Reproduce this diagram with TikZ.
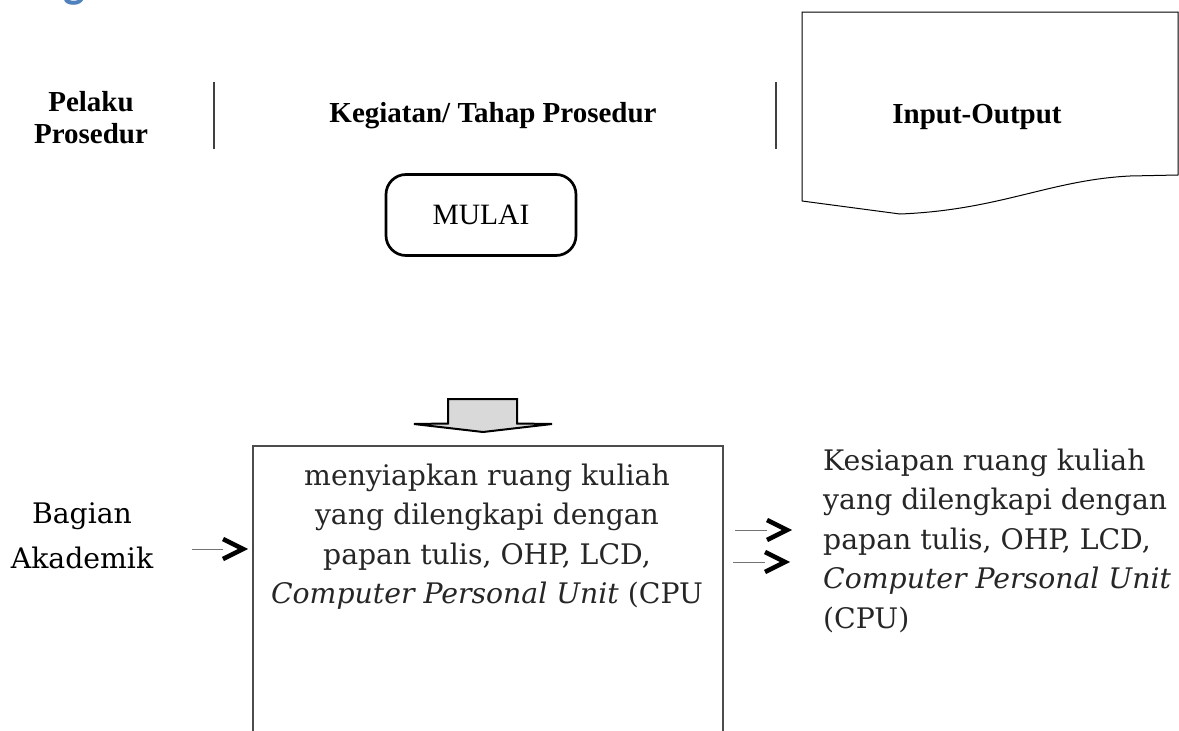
\documentclass[tikz,border=0pt]{standalone}
\usepackage{fontspec}
\setmainfont{DejaVu Serif}
\newfontfamily\hdr{Liberation Serif}
\newfontfamily\headblue{Carlito}
\usetikzlibrary{calc}
\definecolor{hblue}{HTML}{4F81BD}
\definecolor{txt}{HTML}{262626}
\definecolor{shaftgray}{HTML}{D9D9D9}
\newcommand{\myarrow}[2]{%
  \draw[thinline] (#1) -- ($(#2)+(-20,0)$);
  \draw[chev] ($(#2)+(-20,-10)$) -- (#2) -- ($(#2)+(-20,10)$);}
\begin{document}
\begin{tikzpicture}[x=1pt,y=-1pt,
  hdrtext/.style={font=\hdr\bfseries\fontsize{29}{32}\selectfont, inner sep=0, anchor=base},
  body/.style={font=\fontsize{28.3}{39.5}\selectfont, text=txt, inner sep=0},
  sepline/.style={line width=1.3, draw=black!75},
  thinline/.style={line width=1, draw=black!55},
  chev/.style={line width=4.6, draw=black, line cap=butt, line join=miter},
]
\clip (0,0) rectangle (1179,731);
\fill[white] (0,0) rectangle (1179,731);
\node[font=\headblue\bfseries\fontsize{46}{46}\selectfont, text=hblue, anchor=base, inner sep=0] (title) at (74,-3) {g};
% headers
\node[hdrtext] (pelaku) at (91,111) {Pelaku};
\node[hdrtext] (prosedur) at (91,143) {Prosedur};
\draw[sepline] (214,82) -- (214,149);
\node[hdrtext] (kegiatan) at (493,122) {Kegiatan/ Tahap Prosedur};
\draw[sepline] (776,82) -- (776,149);
\draw[line width=1] (802,201) -- (802,12) -- (1178,12) -- (1178,175) -- (1130,176)
  .. controls (1050,180) and (1000,210) .. (900,214) -- (802,201);
\node[hdrtext] (io) at (977,123) {Input-Output};
% start
\node[draw, line width=2.7, rounded corners=20, minimum width=190, minimum height=81,
  font=\hdr\fontsize{29.5}{29.5}\selectfont, inner sep=0] (mulai) at (481,215) {MULAI};
% block arrow
\draw[line width=2, fill=shaftgray, line join=miter] (448,399) -- (517,399) -- (517,423.5)
  -- (552,424) -- (483,432) -- (414,424) -- (448,423.5) -- cycle;
% process
\node[draw=black!70, line width=1.5, minimum width=470, minimum height=320,
  anchor=north west, inner sep=0] (proc) at (252,445) {};
\node[body, align=center, anchor=north] (proctext) at (487,463.5)
  {menyiapkan ruang kuliah\\yang dilengkapi dengan\\papan tulis, OHP, LCD,\\\textit{Computer Personal Unit} (CPU};
\node[body, text=black, align=center, font=\fontsize{28.3}{45}\selectfont, anchor=north] (bagian) at (82,502.5)
  {Bagian\\Akademik};
\node[body, align=left, anchor=north west] (out) at (823,448.5)
  {Kesiapan ruang kuliah\\yang dilengkapi dengan\\papan tulis, OHP, LCD,\\\textit{Computer Personal Unit}\\(CPU)};
% arrows
\coordinate (inS) at (192,549); \coordinate (inE) at (243,549);
\coordinate (o1S) at (735,530); \coordinate (o1E) at (787,530);
\coordinate (o2S) at (733,562); \coordinate (o2E) at (785,562);
\myarrow{inS}{inE}
\myarrow{o1S}{o1E}
\myarrow{o2S}{o2E}
\end{tikzpicture}
\end{document}
